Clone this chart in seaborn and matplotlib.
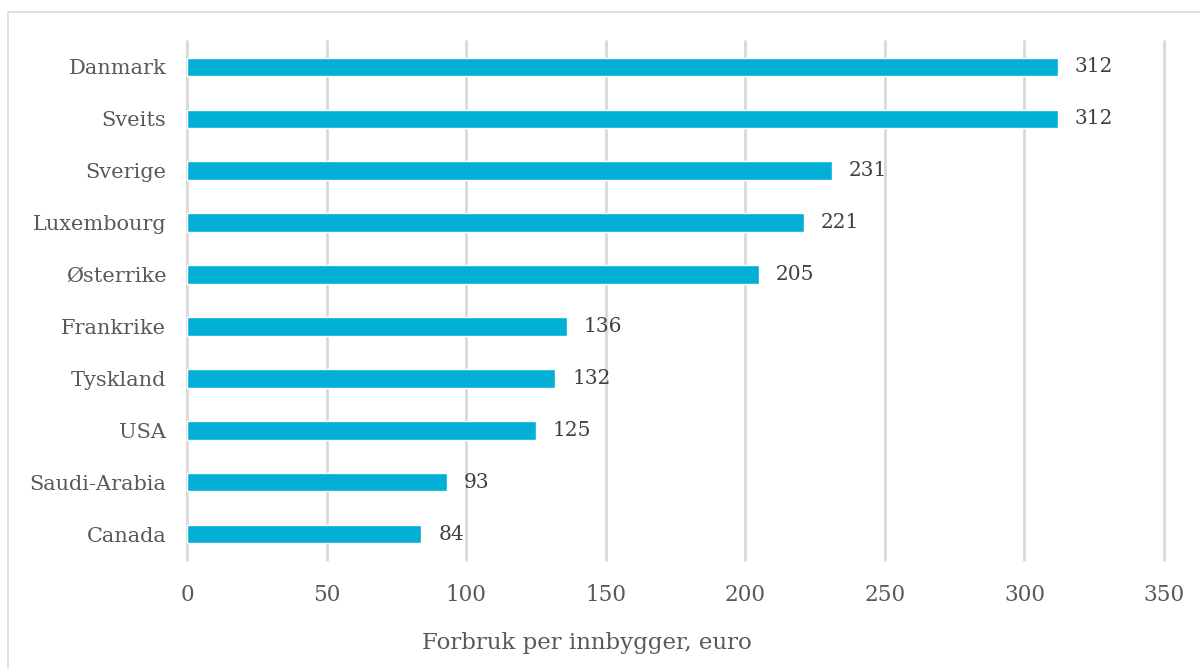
import matplotlib
matplotlib.use("Agg")
import matplotlib.pyplot as plt
import seaborn as sns
import pandas as pd
from matplotlib.lines import Line2D

countries = ["Danmark", "Sveits", "Sverige", "Luxembourg", "Østerrike",
             "Frankrike", "Tyskland", "USA", "Saudi-Arabia", "Canada"]
values = [312, 312, 231, 221, 205, 136, 132, 125, 93, 84]
x_ticks = [0, 50, 100, 150, 200, 250, 300, 350]
x_label = "Forbruk per innbygger, euro"

df = pd.DataFrame({"land": countries, "verdi": values})

sns.set_theme(style="white")
plt.rcParams["font.family"] = ["DejaVu Serif"]

W, H = 1200, 668
fig = plt.figure(figsize=(12, 6.68), dpi=100)
ax = fig.add_axes([187 / W, 1 - 560 / H, (1164 - 187) / W, (560 - 41) / H])

bar_color = "#02AFD6"
sns.barplot(data=df, x="verdi", y="land", color=bar_color, width=0.36,
            saturation=1, ax=ax, zorder=3)

ax.set_xlim(0, 350)
ax.set_ylim(9.5, -0.5)
ax.set_xticks(x_ticks)
ax.grid(axis="x", color="#D9D9D9", linewidth=2, zorder=0)
for gl in ax.get_xgridlines():
    gl.set_clip_on(False)
ax.set_axisbelow(True)
for s in ax.spines.values():
    s.set_visible(False)

ax.tick_params(axis="both", length=0, colors="#595959")
ax.tick_params(axis="x", pad=17, labelsize=15.5)
ax.tick_params(axis="y", pad=15, labelsize=15)
ax.set_xlabel("")
ax.set_ylabel("")

for i, v in enumerate(values):
    ax.annotate(str(v), (v, i), xytext=(12, 0), textcoords="offset points",
                va="center", ha="left", fontsize=14.5, color="#404040")

fig.text(587 / W, 1 - 643 / H, x_label, ha="center", va="center",
         fontsize=16.5, color="#595959")

# chart frame (top and left edges visible)
fig.add_artist(Line2D([8 / W, 8 / W], [0, 1 - 12 / H], transform=fig.transFigure,
                      color="#D9D9D9", linewidth=1.2))
fig.add_artist(Line2D([8 / W, 1], [1 - 12 / H, 1 - 12 / H], transform=fig.transFigure,
                      color="#D9D9D9", linewidth=1.2))

fig.savefig("out.png", dpi=100, facecolor="white")
